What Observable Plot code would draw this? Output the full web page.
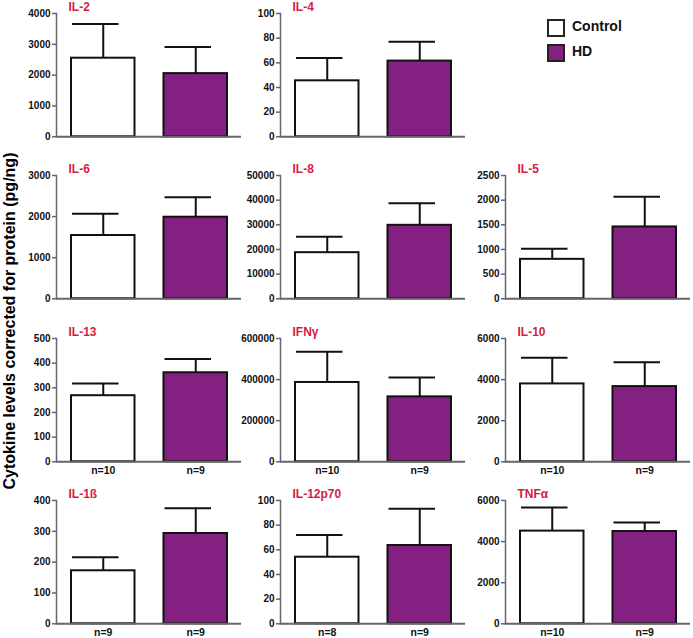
<!DOCTYPE html>
<html>
<head>
<meta charset="utf-8">
<script src="https://cdn.jsdelivr.net/npm/d3@7"></script>
<script src="https://cdn.jsdelivr.net/npm/@observablehq/plot@0.6"></script>
<style>
  body { margin: 0; background: #fff; font-family: "Liberation Sans", Arial, sans-serif; }
  #root { position: relative; width: 693px; height: 638px; overflow: hidden; }
  .panel { position: absolute; }
  #ylabel { position: absolute; width: 460px; left: -220px; top: 311px; height: 20px; line-height: 20px;
    text-align: center; font-weight: bold; font-size: 16px; transform: rotate(-90deg); transform-origin: center; color: #000; }
  .leg { position: absolute; font-weight: bold; font-size: 14px; color: #111; }
  .sw { position: absolute; width: 14px; height: 14px; border: 2px solid #222; }
</style>
</head>
<body>
<div id="root"></div>
<script>
// ---- data ----
const cytokines = ["IL-2", "IL-4", "IL-6", "IL-8", "IL-5", "IL-13", "IFNγ", "IL-10", "IL-1ß", "IL-12p70", "TNFα"];
const groups = ["Control", "HD"];
const controlMean = [2550, 45.4, 1540, 18700, 800, 268, 386000, 3790, 172, 54, 4510];
const controlUpper = [3660, 64, 2068, 25200, 1016, 318, 535000, 5058, 216, 72, 5660];
const hdMean = [2050, 61.4, 1985, 29800, 1457, 361, 316000, 3660, 293, 63.5, 4490];
const hdUpper = [2910, 77, 2472, 38700, 2067, 417, 410000, 4850, 375, 93.3, 4930];
const yMax = [4000, 100, 3000, 50000, 2500, 500, 600000, 6000, 400, 100, 6000];
const yStep = [1000, 20, 1000, 10000, 500, 100, 200000, 2000, 100, 20, 2000];
const controlN = [null, null, null, null, null, 10, 10, 10, 9, 8, 10];
const hdN = [null, null, null, null, null, 9, 9, 9, 9, 9, 9];
const groupColors = ["#ffffff", "#832082"];
const yLabel = "Cytokine levels corrected for protein (pg/ng)";

// ---- layout ----
const slots = [0, 1, 3, 4, 5, 6, 7, 8, 9, 10, 11]; // slot 2 holds the legend
const colAxisX = [56, 280, 505];
const rowTopY = [12.7, 175, 337.7, 500];
const innerH = 123.3;
const mL = 50, mT = 16, mB = 20, innerW = 185;

const root = document.getElementById("root");

cytokines.forEach((name, i) => {
  const data = groups.map((g, j) => ({
    group: g,
    mean: j === 0 ? controlMean[i] : hdMean[i],
    upper: j === 0 ? controlUpper[i] : hdUpper[i],
    n: j === 0 ? controlN[i] : hdN[i]
  }));
  const hasN = data[0].n != null;
  const slot = slots[i];
  const col = slot % 3, row = Math.floor(slot / 3);
  const ticks = d3.range(0, yMax[i] + yStep[i] / 2, yStep[i]);

  const marks = [
    Plot.ruleX(data, {x: "group", y1: "mean", y2: "upper", stroke: "#111", strokeWidth: 2}),
    Plot.tickY(data, {x: "group", y: "upper", stroke: "#111", strokeWidth: 2, insetLeft: 1, insetRight: 16}),
    Plot.barY(data, {x: "group", y: "mean", fill: "group", stroke: "#111", strokeWidth: 2, insetLeft: 0, insetRight: 0}),
    Plot.frame({anchor: "left", stroke: "#666", strokeWidth: 1.5}),
    Plot.ruleY([0], {stroke: "#666", strokeWidth: 2}),
    Plot.axisY({ticks, tickSize: 4, tickPadding: 2, stroke: "#666", strokeWidth: 1.5, tickFormat: d3.format("d"), label: null, fontSize: 10, fontWeight: "bold"}),
    Plot.text([name], {frameAnchor: "top-left", dx: 12, dy: -2, lineAnchor: "bottom", textAnchor: "start", fill: "#d2213f", fontSize: 12, fontWeight: "bold"})
  ];
  if (hasN) {
    marks.push(Plot.axisX({tickSize: 0, tickPadding: 5, label: null, fontSize: 10.5, fontWeight: "bold",
      tickFormat: g => "n=" + data.find(d => d.group === g).n}));
  } else {
    marks.push(Plot.axisX({ticks: [], label: null}));
  }

  const svg = Plot.plot({
    width: mL + innerW,
    height: mT + innerH + mB,
    marginLeft: mL, marginRight: 0, marginTop: mT, marginBottom: mB,
    style: {background: "transparent", fontFamily: "'Liberation Sans', Arial, sans-serif", fontSize: "10px", fontWeight: "bold", color: "#111", overflow: "visible"},
    x: {type: "band", domain: groups, range: [mL + 15, mL + 171], paddingInner: 0.3135, paddingOuter: 0, round: false},
    y: {domain: [0, yMax[i]]},
    color: {domain: groups, range: groupColors},
    marks
  });
  svg.classList.add("panel");
  svg.style.left = (colAxisX[col] - mL) + "px";
  svg.style.top = (rowTopY[row] - mT) + "px";
  root.appendChild(svg);
});

// y label
const yl = document.createElement("div");
yl.id = "ylabel";
yl.textContent = yLabel;
root.appendChild(yl);

// legend
groups.forEach((g, j) => {
  const sw = document.createElement("div");
  sw.className = "sw";
  sw.style.left = "547px";
  sw.style.top = (19 + j * 25) + "px";
  sw.style.background = groupColors[j];
  root.appendChild(sw);
  const t = document.createElement("div");
  t.className = "leg";
  t.style.left = "572px";
  t.style.top = (18 + j * 25) + "px";
  t.textContent = g;
  root.appendChild(t);
});
</script>
</body>
</html>
